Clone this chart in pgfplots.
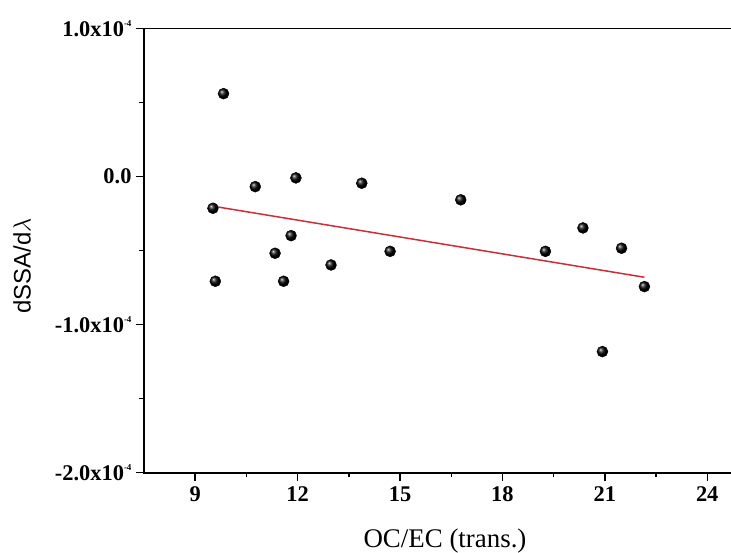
\documentclass[border=0pt]{standalone}
\usepackage{fontspec}
\setmainfont{Liberation Serif}
\newfontfamily\sansf{Liberation Sans}
\usepackage{pgfplots}
\pgfplotsset{compat=1.18}
\definecolor{fitred}{RGB}{205,45,55}
\newcommand{\supx}[1]{\raisebox{1.0ex}{\fontsize{9}{9}\selectfont #1}}
\begin{document}
\begin{tikzpicture}
\begin{axis}[
  scale only axis,
  width=591.2bp, height=444.2bp,
  xmin=7.5, xmax=24.82,
  ymin=-2e-4, ymax=1e-4,
  xtick={9,12,15,18,21,24},
  xticklabels={9,12,15,18,21,24},
  ytick={-2e-4,-1e-4,0,1e-4},
  yticklabels={-2.0x10\supx{-4},-1.0x10\supx{-4},0.0,1.0x10\supx{-4}},
  scaled y ticks=false,
  minor x tick num=1,
  minor y tick num=1,
  xtick pos=bottom, ytick pos=left,
  tick align=outside,
  major tick length=8bp,
  minor tick length=4.5bp,
  every tick/.style={black, line width=1.4bp},
  axis line style={line width=1.6bp},
  tick label style={font=\fontsize{22.5}{22.5}\selectfont\bfseries},
  xticklabel style={yshift=-2bp},
  yticklabel style={xshift=-1bp},
  xlabel={OC/EC (trans.)},
  ylabel={dSSA/d\(\lambda\)},
  xlabel style={font=\fontsize{27}{27}\selectfont, at={([xshift=301bp,yshift=-74.5bp]axis description cs:0,0)}, anchor=base},
  ylabel style={font=\fontsize{24}{24}\selectfont\sansf, at={([xshift=-122bp]axis description cs:0,0.465)}, anchor=center, rotate=0},
  clip=false,
]
\addplot[only marks, mark=ball, mark size=5.5bp, ball color=black] coordinates {
(9.83,0.56e-4)
(10.76,-0.068e-4)
(11.95,-0.009e-4)
(13.88,-0.045e-4)
(9.52,-0.214e-4)
(11.81,-0.399e-4)
(11.34,-0.518e-4)
(14.71,-0.505e-4)
(12.98,-0.597e-4)
(9.59,-0.707e-4)
(11.59,-0.707e-4)
(16.78,-0.157e-4)
(20.36,-0.347e-4)
(19.26,-0.505e-4)
(21.49,-0.484e-4)
(22.16,-0.743e-4)
(20.93,-1.182e-4)
};
\addplot[fitred, line width=1.5bp] coordinates {(9.52,-0.20e-4) (22.16,-0.68e-4)};
\end{axis}
\pgfresetboundingbox
\path[use as bounding box] (-144bp,-80.3bp) rectangle (587bp,472.7bp);
\end{tikzpicture}
\end{document}
